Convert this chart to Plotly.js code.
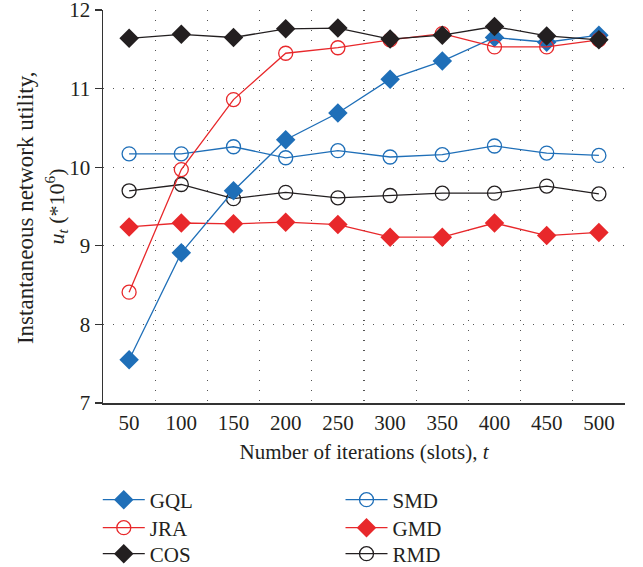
<!DOCTYPE html>
<html><head><meta charset="utf-8">
<script src="https://cdn.plot.ly/plotly-3.0.1.min.js"></script>
<style>html,body{margin:0;padding:0;background:#fff}#chart{width:643px;height:567px}</style>
</head><body><div id="chart"></div>
<script>
const iterations = [50, 100, 150, 200, 250, 300, 350, 400, 450, 500];
const GQL = [7.55, 8.91, 9.70, 10.35, 10.69, 11.12, 11.35, 11.65, 11.59, 11.68];
const JRA = [8.41, 9.97, 10.86, 11.45, 11.52, 11.62, 11.70, 11.53, 11.53, 11.62];
const COS = [11.64, 11.69, 11.65, 11.76, 11.77, 11.63, 11.68, 11.79, 11.67, 11.62];
const SMD = [10.17, 10.17, 10.26, 10.12, 10.21, 10.13, 10.16, 10.27, 10.18, 10.15];
const GMD = [9.24, 9.29, 9.28, 9.30, 9.27, 9.11, 9.11, 9.29, 9.13, 9.17];
const RMD = [9.70, 9.78, 9.60, 9.68, 9.61, 9.64, 9.67, 9.67, 9.76, 9.66];
const xTickLabels = ['50','100','150','200','250','300','350','400','450','500'];
const yTitleLine1 = 'Instantaneous network utility,';
const yTitleLine2 = '<i>u</i><sub><i>t</i></sub> (*10<sup>6</sup>)';
const xTitle = 'Number of iterations (slots), <i>t</i>';

const BLUE = '#1f6fb8', RED = '#e8282b', BLACK = '#231f20';
const FONT = 'Liberation Serif, Times New Roman, serif';

function tr(name, y, color, symbol, legend) {
  const open = symbol === 'circle-open';
  return {
    x: iterations, y: y, name: name, type: 'scatter', mode: 'lines+markers',
    legend: legend,
    line: {color: color, width: 1.3},
    marker: open ? {symbol: 'circle-open', size: 14, color: color, line: {color: color, width: 1.3}}
                 : {symbol: 'diamond', size: 15, color: color, line: {width: 0}}
  };
}

const data = [
  tr('GMD', GMD, RED, 'diamond', 'legend5'),
  tr('RMD', RMD, BLACK, 'circle-open', 'legend6'),
  tr('SMD', SMD, BLUE, 'circle-open', 'legend4'),
  tr('GQL', GQL, BLUE, 'diamond', 'legend'),
  tr('JRA', JRA, RED, 'circle-open', 'legend2'),
  tr('COS', COS, BLACK, 'diamond', 'legend3')
];

const gridDash = '1px,9px';
function leg(x, y) {
  return {
    orientation: 'v', yref: 'container', yanchor: 'top', y: y, xanchor: 'left', x: x,
    font: {family: FONT, size: 21, color: '#231f20'}, itemwidth: 42,
    bgcolor: 'rgba(0,0,0,0)'
  };
}
const rowY = [0.1543, 0.1049, 0.0591];

const layout = {
  width: 643, height: 567,
  margin: {l: 103, r: 18, t: 10, b: 164, autoexpand: false},
  paper_bgcolor: '#fff', plot_bgcolor: '#fff',
  font: {family: FONT, color: '#231f20'},
  showlegend: true,
  legend: leg(-0.01, rowY[0]),
  legend2: leg(-0.01, rowY[1]),
  legend3: leg(-0.01, rowY[2]),
  legend4: leg(0.455, rowY[0]),
  legend5: leg(0.455, rowY[1]),
  legend6: leg(0.455, rowY[2]),
  xaxis: {
    range: [25, 525], tickvals: iterations, ticktext: xTickLabels,
    ticks: '', showgrid: false, zeroline: false, ticklabeloverflow: 'allow',
    showline: true, linecolor: '#333', linewidth: 1.5,
    tickfont: {family: FONT, size: 21, color: '#231f20'},
    minor: {tickvals: [75,125,175,225,275,325,375,425,475,525], showgrid: true, gridcolor: '#555', gridwidth: 1.3, griddash: gridDash, ticks: ''},
    title: {text: xTitle, font: {family: FONT, size: 21, color: '#231f20'}, standoff: 10}
  },
  yaxis: {
    range: [7, 12], dtick: 1, tick0: 7, ticklabeloverflow: 'allow',
    ticks: 'outside', ticklen: 7, tickwidth: 1.3, tickcolor: '#333',
    showgrid: true, gridcolor: '#555', gridwidth: 1.3, griddash: gridDash,
    zeroline: false, showline: true, linecolor: '#333', linewidth: 1.5,
    tickfont: {family: FONT, size: 21, color: '#231f20'}
  },
  annotations: [
    {text: yTitleLine1, textangle: -90, xref: 'paper', yref: 'paper', x: 0, y: 0.496,
     xanchor: 'center', yanchor: 'middle', xshift: -78, showarrow: false,
     font: {family: FONT, size: 23, color: '#231f20'}},
    {text: yTitleLine2, textangle: -90, xref: 'paper', yref: 'paper', x: 0, y: 0.5,
     xanchor: 'center', yanchor: 'middle', xshift: -47, showarrow: false,
     font: {family: FONT, size: 22, color: '#231f20'}}
  ]
};

Plotly.newPlot('chart', data, layout, {displayModeBar: false, staticPlot: true});
</script></body></html>
